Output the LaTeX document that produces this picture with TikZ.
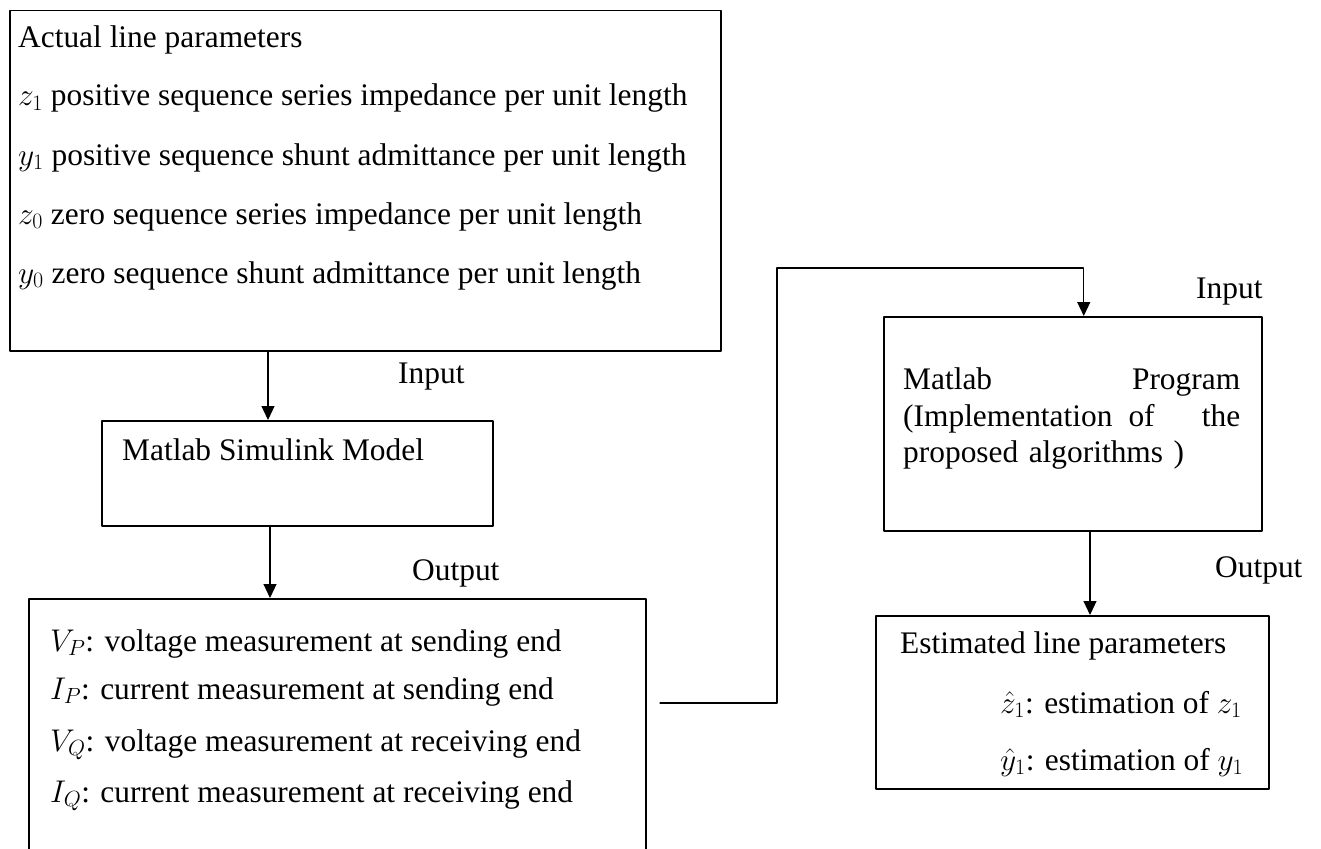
\RequirePackage{fix-cm}
\documentclass[tikz,border=0pt]{standalone}
\usepackage{fontspec}
\setmainfont{Liberation Serif}
\usetikzlibrary{arrows.meta}

\begin{document}
\begin{tikzpicture}[line cap=round,line join=round,>={Triangle[length=14pt,width=13pt]},x=1pt,y=-1pt,
  box/.style={draw,line width=1.5pt,inner sep=0pt,anchor=north west},
  txt/.style={anchor=base west,inner sep=0pt,font=\fontsize{31.4}{36}\selectfont},
  conn/.style={->,line width=1.1pt}]
\useasboundingbox (0,0) rectangle (1321,848);
% boxes
\node[box,minimum width=711pt,minimum height=340pt] (actual) at (9,10) {};
\node[box,minimum width=391pt,minimum height=105pt] (sim) at (101,420) {};
\node[box,minimum width=617pt,minimum height=256pt] (meas) at (28,598) {};
\node[box,minimum width=378pt,minimum height=214pt] (prog) at (883,316) {};
\node[box,minimum width=393pt,minimum height=173pt] (est) at (875,615) {};
% texts
\node[txt] (a0) at (18,48) {Actual line parameters};
\node[txt] (a1) at (18,106) {$z_1$ positive sequence series impedance per unit length};
\node[txt] (a2) at (18,165) {$y_1$ positive sequence shunt admittance per unit length};
\node[txt] (a3) at (18,224) {$z_0$ zero sequence series impedance per unit length};
\node[txt] (a4) at (18,283) {$y_0$ zero sequence shunt admittance per unit length};
\node[txt] (s0) at (122,460) {Matlab Simulink Model};
\node[txt] (m1) at (50,651) {$V_P$: voltage measurement at sending end};
\node[txt] (m2) at (50,699) {$I_P$: current measurement at sending end};
\node[txt] (m3) at (50,751) {$V_Q$: voltage measurement at receiving end};
\node[txt] (m4) at (50,802) {$I_Q$: current measurement at receiving end};
\node[txt,text width=337pt] (p1) at (903,389) {Matlab\hfill Program};
\node[txt,text width=337pt] (p2) at (903,426) {(Implementation\hspace{16pt}of\hfill the};
\node[txt,text width=337pt] (p3) at (903,462) {proposed algorithms )};
\node[txt] (e0) at (900,653) {Estimated line parameters};
\node[txt] (e1) at (1000,713) {$\hat{z}_1$: estimation of $z_1$};
\node[txt] (e2) at (1000,770) {$\hat{y}_1$: estimation of $y_1$};
% labels
\node[txt] (in1) at (398,383) {Input};
\node[txt] (out1) at (412,580) {Output};
\node[txt] (in2) at (1196,298) {Input};
\node[txt] (out2) at (1215,577) {Output};
% connectors
\coordinate (link) at (660,703);
\draw[conn] ([xshift=259pt]actual.south west) -- ([xshift=167pt]sim.north west);
\draw[conn] ([xshift=169pt]sim.south west) -- ([xshift=242pt]meas.north west);
\draw[conn] (link) -| (777,268) -| ([xshift=11pt]prog.north);
\draw[conn] ([xshift=207pt]prog.south west) -- ([xshift=215pt]est.north west);
\end{tikzpicture}
\end{document}
